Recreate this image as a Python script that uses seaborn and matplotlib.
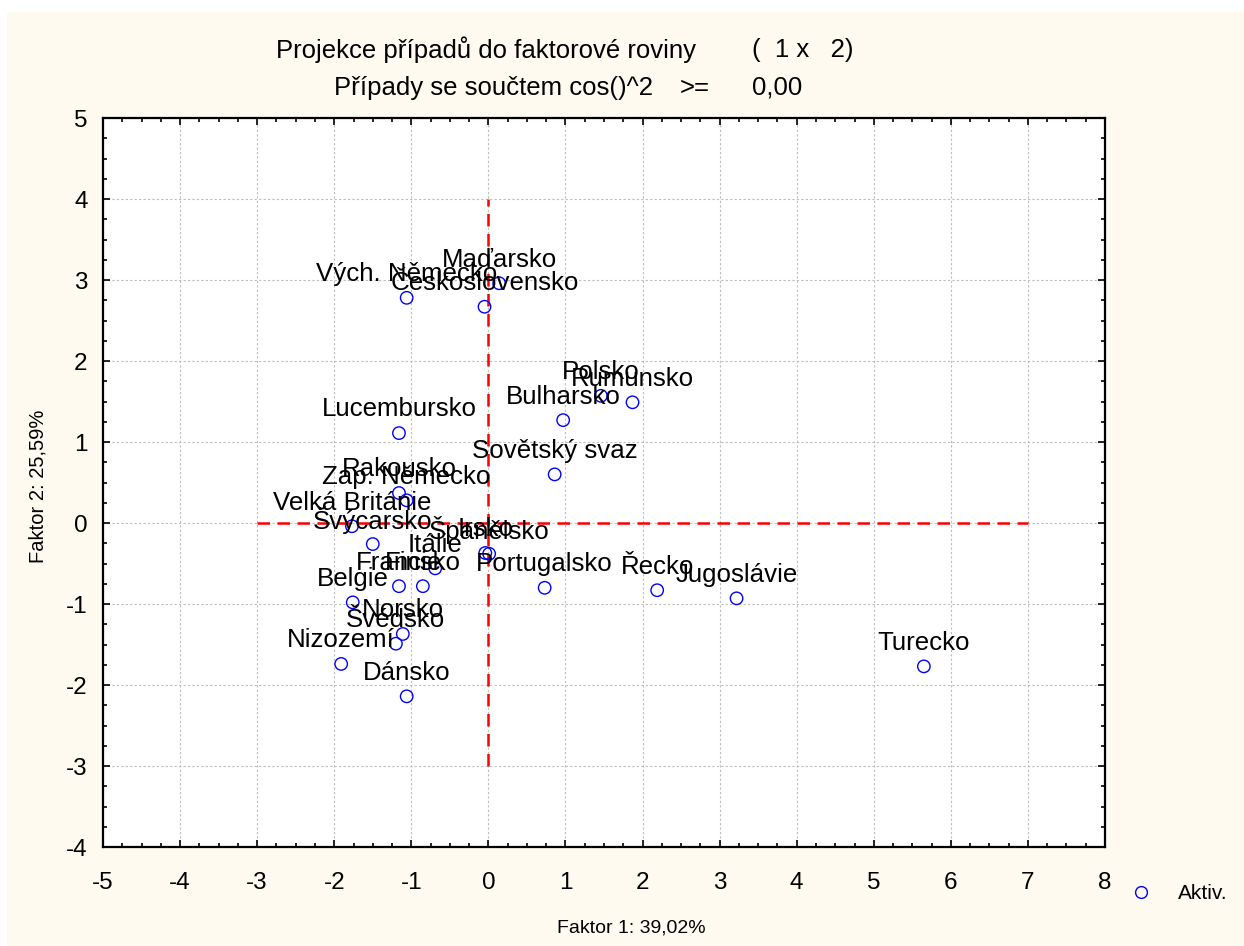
import matplotlib
matplotlib.use("Agg")
import matplotlib.pyplot as plt
import seaborn as sns
import pandas as pd
from matplotlib.ticker import MultipleLocator
from matplotlib.patches import Rectangle
from matplotlib.lines import Line2D

countries = ["Vých. Německo", "Československo", "Maďarsko", "Polsko", "Rumunsko",
             "Bulharsko", "Lucembursko", "Sovětský svaz", "Rakousko", "Zap. Německo",
             "Velká Británie", "Švýcarsko", "Irsko", "Španělsko", "Itálie", "Francie",
             "Finsko", "Portugalsko", "Řecko", "Jugoslávie", "Belgie", "Norsko",
             "Švédsko", "Nizozemí", "Dánsko", "Turecko"]
faktor1 = [-1.06, -0.05, 0.14, 1.46, 1.87,
           0.97, -1.16, 0.86, -1.16, -1.06,
           -1.77, -1.50, -0.04, 0.01, -0.69, -1.16,
           -0.85, 0.73, 2.19, 3.22, -1.76, -1.11,
           -1.20, -1.91, -1.06, 5.65]
faktor2 = [2.78, 2.67, 2.96, 1.57, 1.49,
           1.27, 1.11, 0.60, 0.37, 0.28,
           -0.04, -0.26, -0.37, -0.38, -0.56, -0.78,
           -0.78, -0.80, -0.83, -0.93, -0.98, -1.37,
           -1.49, -1.74, -2.14, -1.77]

title1 = "Projekce případů do faktorové roviny"
title1b = "(  1 x   2)"
title2 = "Případy se součtem cos()^2"
title2b = ">="
title2c = "0,00"
xlabel = "Faktor 1: 39,02%"
ylabel = "Faktor 2: 25,59%"
legend_label = "Aktiv."

df = pd.DataFrame({"name": countries, "f1": faktor1, "f2": faktor2})

sns.set_theme(style="white")
plt.rcParams["font.family"] = ["Liberation Sans", "DejaVu Sans"]
plt.rcParams["axes.unicode_minus"] = False
plt.rcParams["text.color"] = "black"

W, H = 1244, 946
fig = plt.figure(figsize=(W / 100, H / 100), dpi=100, facecolor="white")
fig.patches.append(Rectangle((7 / W, 0), 1 - 7 / W, 1 - 12 / H, transform=fig.transFigure,
                             facecolor="#fefaf0", edgecolor="none", zorder=-10))

ax = fig.add_axes([103 / W, 1 - 847 / H, (1105 - 103) / W, (847 - 118) / H])
ax.set_facecolor("white")

# reference lines
ax.plot([-3, 7], [0, 0], color="red", lw=1.8, ls=(0, (5, 3)), zorder=2)
ax.plot([0, 0], [-3, 4], color="red", lw=1.8, ls=(0, (5, 3)), zorder=2)

sns.scatterplot(data=df, x="f1", y="f2", ax=ax, marker="o", s=80,
                facecolors="none", edgecolor="blue", linewidth=1.0, zorder=3, legend=False)

for n, x, y in zip(df["name"], df["f1"], df["f2"]):
    ax.annotate(n, (x, y), xytext=(0, 17), textcoords="offset points",
                ha="center", va="center", fontsize=18.6, color="black", zorder=4)

ax.set_xlim(-5, 8)
ax.set_ylim(-4, 5)
ax.xaxis.set_major_locator(MultipleLocator(1))
ax.yaxis.set_major_locator(MultipleLocator(1))
ax.xaxis.set_minor_locator(MultipleLocator(0.25))
ax.yaxis.set_minor_locator(MultipleLocator(0.25))
ax.grid(True, which="major", color="#bdbdbd", ls=(0, (2, 2)), lw=0.8)
ax.set_axisbelow(True)
ax.tick_params(which="major", direction="in", length=5, width=1.2, color="black",
               labelsize=17.5, labelcolor="black",
               top=True, right=True, bottom=True, left=True)
ax.tick_params(axis="x", which="major", pad=18)
ax.tick_params(axis="y", which="major", pad=11)
ax.tick_params(which="minor", direction="in", length=3, width=1.2, color="black",
               top=True, right=True, bottom=True, left=True)
for sp in ax.spines.values():
    sp.set_color("black")
    sp.set_linewidth(1.6)

ax.set_xlabel("")
ax.set_ylabel("")

fig.text(631 / W, 1 - 928 / H, xlabel, ha="center", va="center", fontsize=14)
fig.text(38 / W, 1 - 486 / H, ylabel, ha="center", va="center", fontsize=14.5, rotation=90)

fig.text(276 / W, 1 - 50 / H, title1, ha="left", va="center", fontsize=18.5)
fig.text(752 / W, 1 - 50 / H, title1b, ha="left", va="center", fontsize=18.5)
fig.text(334 / W, 1 - 88 / H, title2, ha="left", va="center", fontsize=18.5)
fig.text(680 / W, 1 - 88 / H, title2b, ha="left", va="center", fontsize=18.5)
fig.text(752 / W, 1 - 88 / H, title2c, ha="left", va="center", fontsize=18.5)

# legend
fig.lines.append(Line2D([1141 / W], [1 - 892 / H], transform=fig.transFigure, marker="o",
                        markersize=8.5, markerfacecolor="none", markeredgecolor="blue",
                        markeredgewidth=1.0, ls="none"))
fig.text(1178 / W, 1 - 893 / H, legend_label, ha="left", va="center", fontsize=15)

fig.savefig("out.png", dpi=100, facecolor=fig.get_facecolor())
